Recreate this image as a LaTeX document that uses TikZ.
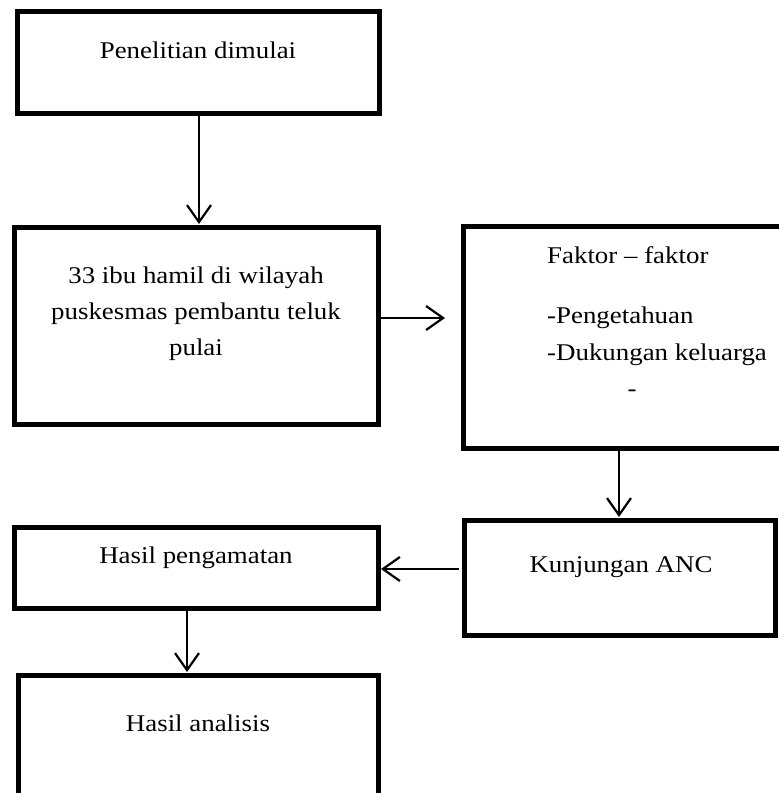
\documentclass[tikz,border=0pt]{standalone}
\usepackage{fontspec}
\setmainfont{Liberation Serif}[FakeStretch=1.12]
\usetikzlibrary{arrows.meta}
\begin{document}
\begin{tikzpicture}[x=1pt,y=-1pt,
  box/.style={draw,line width=5pt,rectangle,inner sep=0pt,fill=none},
  lbl/.style={inner sep=0pt,font=\fontsize{24}{36}\selectfont,anchor=base},
  arr/.style={line width=2.2pt,-{Straight Barb[length=17pt,width=24pt,line width=2.2pt]}}]
\useasboundingbox (0,0) rectangle (779,793);
\clip (0,0) rectangle (779,793);
\fill[white] (0,0) rectangle (779,793);
% boxes
\node[box,minimum width=362pt,minimum height=102pt] (b1) at (198.5,62.5) {};
\node[box,minimum width=364pt,minimum height=197pt] (b2) at (196.5,326) {};
\node[box,minimum width=336.5pt,minimum height=222pt] (b3) at (631.75,337.5) {};
\node[box,minimum width=311pt,minimum height=115pt] (b4) at (620,578) {};
\node[box,minimum width=364pt,minimum height=81pt] (b5) at (196.5,568) {};
\node[box,minimum width=360pt,minimum height=144.5pt] (b6) at (198.5,747.75) {};
% texts
\node[lbl] (t1) at (198,58) {Penelitian dimulai};
\node[lbl] (t2a) at (196,283) {33 ibu hamil di wilayah};
\node[lbl] (t2b) at (196,319) {puskesmas pembantu teluk};
\node[lbl] (t2c) at (196,355) {pulai};
\node[lbl,anchor=base west] (t3a) at (547,263) {Faktor – faktor};
\node[lbl,anchor=base west] (t3b) at (547,323) {-Pengetahuan};
\node[lbl,anchor=base west] (t3c) at (547,360) {-Dukungan keluarga};
\node[lbl] (t3d) at (632,396) {-};
\node[lbl] (t4) at (621,572) {Kunjungan ANC};
\node[lbl] (t5) at (196,563) {Hasil pengamatan};
\node[lbl] (t6) at (198,731) {Hasil analisis};
% connectors
\draw[arr] (b1.south -| 199,0) -- ([yshift=1pt]b2.north -| 199,0);
\draw[arr] (b2.east |- 0,318) -- ([xshift=-16pt]b3.west |- 0,318);
\draw[arr] (b3.south -| 619,0) -- ([yshift=1pt]b4.north -| 619,0);
\draw[arr] ([xshift=-3pt]b4.west |- 0,569) -- (b5.east |- 0,569);
\draw[arr] (b5.south -| 187,0) -- ([yshift=1pt]b6.north -| 187,0);
\end{tikzpicture}
\end{document}
